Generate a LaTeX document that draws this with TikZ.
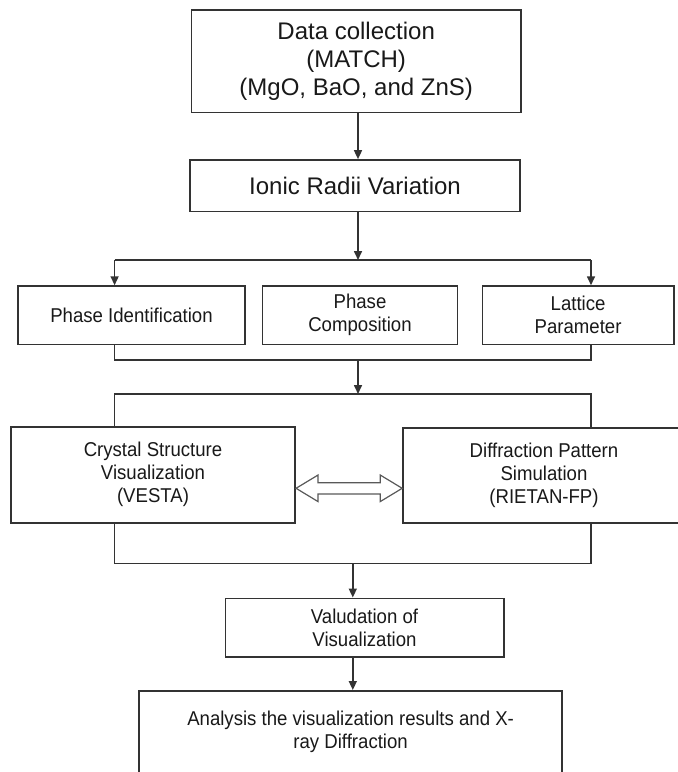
\documentclass[tikz,border=0pt]{standalone}
\usepackage{fontspec}
\setmainfont{Liberation Sans}
\newfontfamily\narrowsans{Liberation Sans}[FakeStretch=0.93]
\usetikzlibrary{arrows.meta,calc}
\begin{document}
\begin{tikzpicture}[x=1pt,y=-1pt,%
% common options for the boxes:
box/.style = {draw=black!80, line width=1.6pt, fill=white, align=center,
            text=black!90, inner sep=2pt},
bigbox/.style = {box, font=\fontsize{24}{28}\selectfont},
smallbox/.style = {box, font=\narrowsans\fontsize{20}{23}\selectfont},
% common options for the connectors:
link/.style = {draw=black!80, line width=1.6pt},
arr/.style = {link, -{Triangle[length=9pt,width=8pt]}},
hollow/.style = {draw=black!65, line width=1.2pt, fill=white}]
\useasboundingbox (0,0) rectangle (678,772);
\clip (0,0) rectangle (678,772);
\node[bigbox,minimum width=329.5pt,minimum height=102.7pt] (data) at (356.2,61.3) {Data collection\\(MATCH)\\(MgO, BaO, and ZnS)};
\node[bigbox,minimum width=330pt,minimum height=51.7pt] (ionic) at (355,185.8) {Ionic Radii Variation};
\node[smallbox,minimum width=227pt,minimum height=58.3pt] (phid) at (131.5,315.2) {Phase Identification};
\node[smallbox,minimum width=195pt,minimum height=58.3pt] (phcomp) at (360,315.2) {Phase\\Composition};
\node[smallbox,minimum width=191.2pt,minimum height=58.3pt] (lattice) at (578.1,315.2) {Lattice\\Parameter};
\node[smallbox,minimum width=284.5pt,minimum height=96pt] (vesta) at (153,474.7) {Crystal Structure\\Visualization\\(VESTA)};
\node[smallbox,minimum width=282pt,minimum height=95pt] (rietan) at (544,475.2) {Diffraction Pattern\\Simulation\\(RIETAN-FP)};
\node[smallbox,minimum width=278.4pt,minimum height=58.4pt] (valid) at (364.5,627.5) {Valudation of\\Visualization};
\node[smallbox,minimum width=422.8pt,anchor=north,inner ysep=20pt,text depth=80pt] (analysis) at (350.6,690) {Analysis the visualization results and X-\\ray Diffraction};
% split after the radii
\coordinate (split) at (358,260);
\coordinate (splitl) at (114.6,260);
\coordinate (splitr) at (591,260);
\draw[arr] (data.south -| split) -- (ionic.north -| split);
\draw[arr] (ionic.south -| split) -- (split);
\draw[link] (splitl) -- (splitr);
\draw[arr] (splitl) -- (splitl |- phid.north);
\draw[arr] (splitr) -- (splitr |- lattice.north);
% join of the three phases
\coordinate (join) at (358,360);
\coordinate (joinl) at (114.6,360);
\coordinate (joinr) at (591,360);
\draw[link] (joinl |- phid.south) -- (joinl) -- (joinr) -- (joinr |- lattice.south);
\coordinate (split2) at (358,394);
\coordinate (split2l) at (114.6,394);
\coordinate (split2r) at (591,394);
\draw[arr] (join) -- (split2);
\draw[link] (split2l |- vesta.north) -- (split2l) -- (split2r) -- (split2r |- rietan.north);
% hollow double arrow
\path (vesta.east) ++(0,13.6) coordinate (dl);
\path (rietan.west) ++(0,13.1) coordinate (dr);
\draw[hollow] (dl) -- ++(22,-13.3) -- ++(0,7.7) -- ($(dr)+(-22,-5.6)$) -- ++(0,-7.7) -- (dr)
  -- ++(-22,13.3) -- ++(0,-7.7) -- ($(dl)+(22,5.6)$) -- ++(0,7.7) -- cycle;
% join of the two programs
\coordinate (join2) at (352.8,563.3);
\coordinate (join2l) at (114.6,563.3);
\coordinate (join2r) at (591,563.3);
\draw[link] (join2l |- vesta.south) -- (join2l) -- (join2r) -- (join2r |- rietan.south);
\draw[arr] (join2) -- (join2 |- valid.north);
\draw[arr] (valid.south -| join2) -- (join2 |- analysis.north);
\end{tikzpicture}
\end{document}
